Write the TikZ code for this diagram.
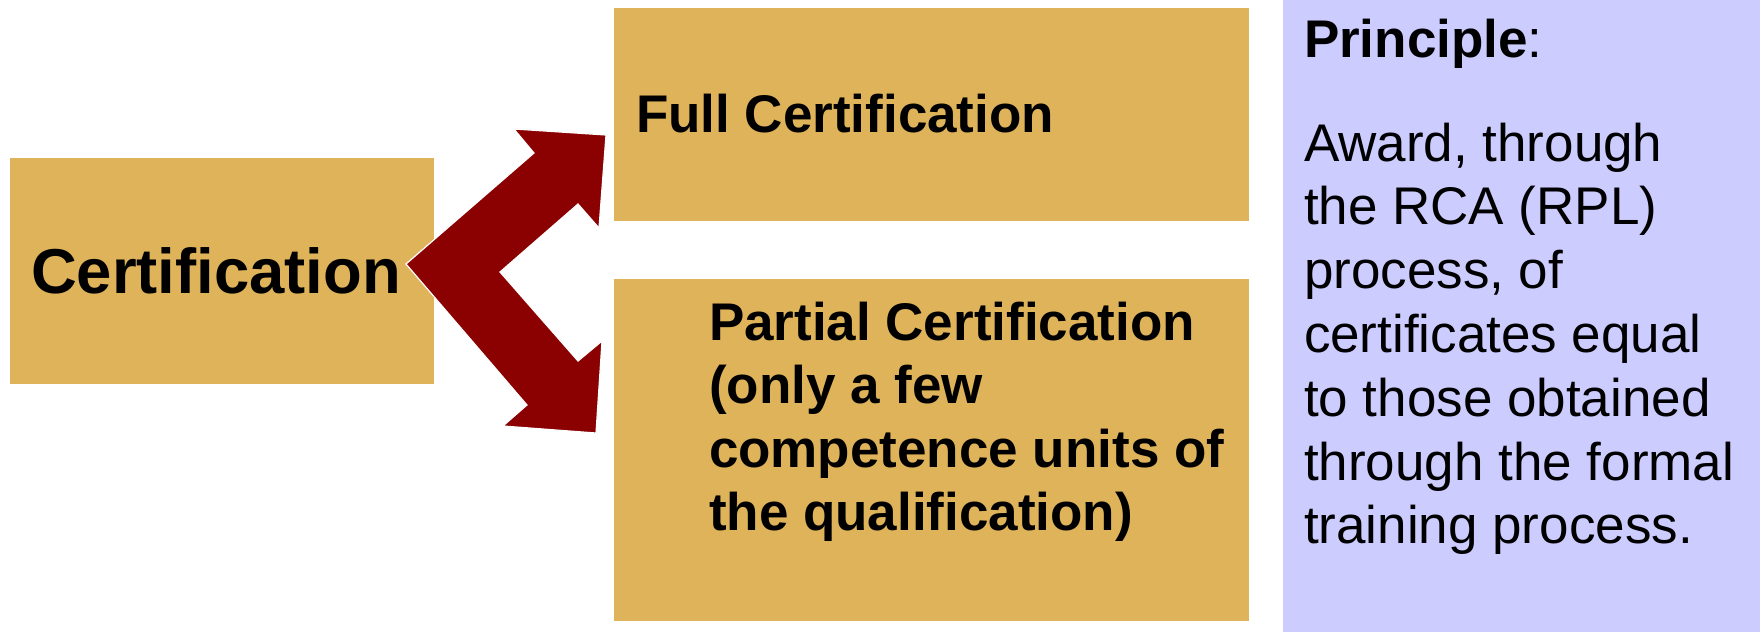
\documentclass[tikz,border=0pt]{standalone}
\usepackage{fontspec}
\setmainfont{Liberation Sans}
\definecolor{boxgold}{RGB}{223,179,90}
\definecolor{principlebg}{RGB}{204,204,255}
\definecolor{arrowred}{RGB}{139,0,0}
\begin{document}
\begin{tikzpicture}[x=1pt,y=-1pt,
  goldbox/.style={fill=boxgold, draw=none, inner sep=0pt, outer sep=0pt},
  txt/.style={anchor=base west, inner sep=0pt, outer sep=0pt, text=black},
  big/.style={font=\fontsize{63.4}{76}\selectfont\bfseries},
  mid/.style={font=\fontsize{53}{63.5}\selectfont\bfseries},
  reg/.style={font=\fontsize{53}{63.8}\selectfont}]
\useasboundingbox (0,0) rectangle (1760,632);
\fill[white] (0,0) rectangle (1760,632);
% boxes
\node[goldbox, minimum width=424pt, minimum height=226pt] (cert) at (222,271) {};
\node[goldbox, minimum width=635pt, minimum height=213pt] (full) at (931.5,114) {};
\node[goldbox, minimum width=635pt, minimum height=342pt] (part) at (931.5,450) {};
\node[fill=principlebg, draw=none, inner sep=0pt, minimum width=477pt, minimum height=632pt] (prin) at (1521.5,316) {};
% double arrow
\fill[arrowred, draw=white, line width=1.2pt, line join=miter]
  (406,264) -- (534,153) -- (514,129) -- (606,135) -- (599,228) -- (578,204)
  -- (500,272) -- (578,361) -- (602,341) -- (596,433) -- (503,426) -- (527,405) -- cycle;
% texts
\node[txt, big] (tcert) at (31,293) {Certification};
\node[txt, mid] (tfull) at (636,132) {Full Certification};
\node[txt, mid] (tp1) at (709,340) {Partial Certification};
\node[txt, mid] (tp2) at (709,403.5) {(only a few};
\node[txt, mid] (tp3) at (709,467) {competence units of};
\node[txt, mid] (tp4) at (709,530.5) {the qualification)};
\node[txt, reg] (pr0) at (1304,57.5) {\textbf{Principle}:};
\node[txt, reg] (pr1) at (1304,161) {Award, through};
\node[txt, reg] (pr2) at (1304,224.8) {the RCA (RPL)};
\node[txt, reg] (pr3) at (1304,288.6) {process, of};
\node[txt, reg] (pr4) at (1304,352.4) {certificates equal};
\node[txt, reg] (pr5) at (1304,416.2) {to those obtained};
\node[txt, reg] (pr6) at (1304,480) {through the formal};
\node[txt, reg] (pr7) at (1304,543.8) {training process.};
\end{tikzpicture}
\end{document}
